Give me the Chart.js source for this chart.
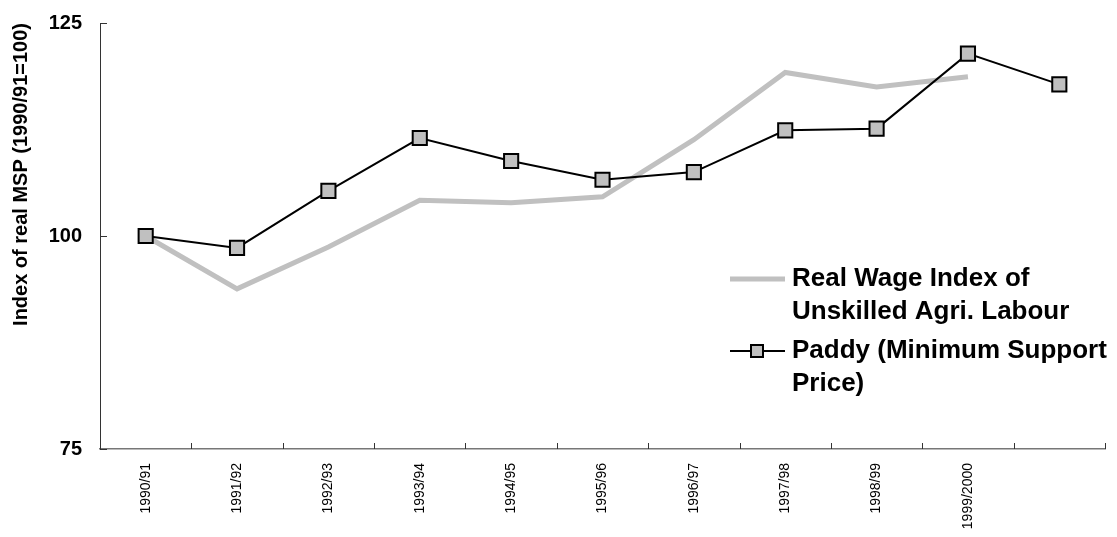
<!DOCTYPE html>
<html>
<head>
<meta charset="utf-8">
<script src="https://cdn.jsdelivr.net/npm/chart.js@4.4.0/dist/chart.umd.min.js"></script>
<style>
  body { margin: 0; background: #fff; }
</style>
</head>
<body>
<canvas id="msp" width="1117" height="537"></canvas>
<script>
// data
var years = ['1990/91', '1991/92', '1992/93', '1993/94', '1994/95', '1995/96',
             '1996/97', '1997/98', '1998/99', '1999/2000', ''];
var realWage = [100, 93.8, 98.7, 104.2, 103.9, 104.6, 111.3, 119.2, 117.5, 118.7, null];
var paddyMsp = [100, 98.6, 105.3, 111.5, 108.8, 106.6, 107.5, 112.4, 112.6, 121.4, 117.8];
var yTicks = [75, 100, 125];
var legendLines = [
  ['Real Wage Index of', 'Unskilled Agri. Labour'],
  ['Paddy (Minimum Support', 'Price)']
];

var FONT = '"Liberation Sans", Arial, sans-serif';

// small tick marks pointing into the plot, like the original
var innerTicks = {
  id: 'innerTicks',
  afterDraw: function (chart) {
    var c = chart.ctx, x = chart.scales.x, y = chart.scales.y;
    c.save();
    c.strokeStyle = '#333';
    c.lineWidth = 1;
    y.ticks.forEach(function (t) {
      var py = Math.round(y.getPixelForValue(t.value)) + 0.5;
      c.beginPath();
      c.moveTo(x.left, py);
      c.lineTo(x.left + 7, py);
      c.stroke();
    });
    for (var i = 0; i <= years.length; i++) {
      var px = Math.round(x.getPixelForValue(i - 0.5)) + 0.5;
      c.beginPath();
      c.moveTo(px, y.bottom);
      c.lineTo(px, y.bottom - 6);
      c.stroke();
    }
    c.restore();
  }
};

// legend drawn inside the plot with wrapped labels
var boxLegend = {
  id: 'boxLegend',
  afterDraw: function (chart, args, opts) {
    var c = chart.ctx;
    c.save();
    c.font = 'bold 26px ' + FONT;
    c.textBaseline = 'middle';
    c.fillStyle = '#000';
    var y0 = opts.y;
    chart.data.datasets.forEach(function (ds, i) {
      var lines = legendLines[i];
      // sample line
      c.strokeStyle = ds.borderColor;
      c.lineWidth = ds.borderWidth;
      c.beginPath();
      c.moveTo(opts.x, y0);
      c.lineTo(opts.x + 55, y0);
      c.stroke();
      if (ds.pointRadius > 0) {
        c.fillStyle = ds.pointBackgroundColor;
        c.strokeStyle = ds.pointBorderColor;
        c.lineWidth = 2;
        c.fillRect(opts.x + 21, y0 - 6, 12, 12);
        c.strokeRect(opts.x + 21, y0 - 6, 12, 12);
      }
      c.fillStyle = '#000';
      lines.forEach(function (l, k) {
        c.fillText(l, opts.x + 62, y0 + k * 33);
      });
      y0 += lines.length * 33 + 6;
    });
    c.restore();
  }
};

var ctx = document.getElementById('msp').getContext('2d');
var mspChart = new Chart(ctx, {
  type: 'line',
  data: {
    labels: years,
    datasets: [{
      label: 'Real Wage Index of Unskilled Agri. Labour',
      data: realWage,
      borderColor: '#c0c0c0',
      borderWidth: 5,
      pointRadius: 0,
      tension: 0,
      order: 2
    }, {
      label: 'Paddy (Minimum Support Price)',
      data: paddyMsp,
      borderColor: '#000',
      borderWidth: 2,
      pointStyle: 'rect',
      pointRadius: 10,
      pointBackgroundColor: '#c0c0c0',
      pointBorderColor: '#000',
      pointBorderWidth: 2,
      tension: 0,
      order: 1
    }]
  },
  options: {
    responsive: false,
    animation: false,
    layout: { padding: { top: 23, right: 12, left: 0, bottom: 0 } },
    plugins: {
      legend: { display: false },
      tooltip: { enabled: false },
      boxLegend: { x: 730, y: 279 }
    },
    scales: {
      x: {
        offset: true,
        grid: { display: false, drawTicks: false },
        border: { display: true, color: '#777', width: 1.5 },
        ticks: {
          autoSkip: false,
          minRotation: 90,
          maxRotation: 90,
          padding: 14,
          color: '#000',
          font: { family: FONT, size: 14 }
        },
        afterFit: function (s) { s.height = 88; }
      },
      y: {
        min: 75,
        max: 125,
        afterBuildTicks: function (s) {
          s.ticks = yTicks.map(function (v) { return { value: v }; });
        },
        grid: { display: false, drawTicks: false },
        border: { display: true, color: '#333', width: 1 },
        ticks: {
          padding: 18,
          color: '#000',
          font: { family: FONT, size: 20, weight: 'bold' }
        },
        title: {
          display: true,
          text: 'Index of real MSP (1990/91=100)',
          align: 'end',
          color: '#000',
          padding: { top: 9, bottom: 0 },
          font: { family: FONT, size: 20, weight: 'bold' }
        },
        afterFit: function (s) {
          s.width = 100;
          s.paddingTop = 0;
          s.paddingBottom = 0;
        }
      }
    }
  },
  plugins: [innerTicks, boxLegend]
});
</script>
</body>
</html>
